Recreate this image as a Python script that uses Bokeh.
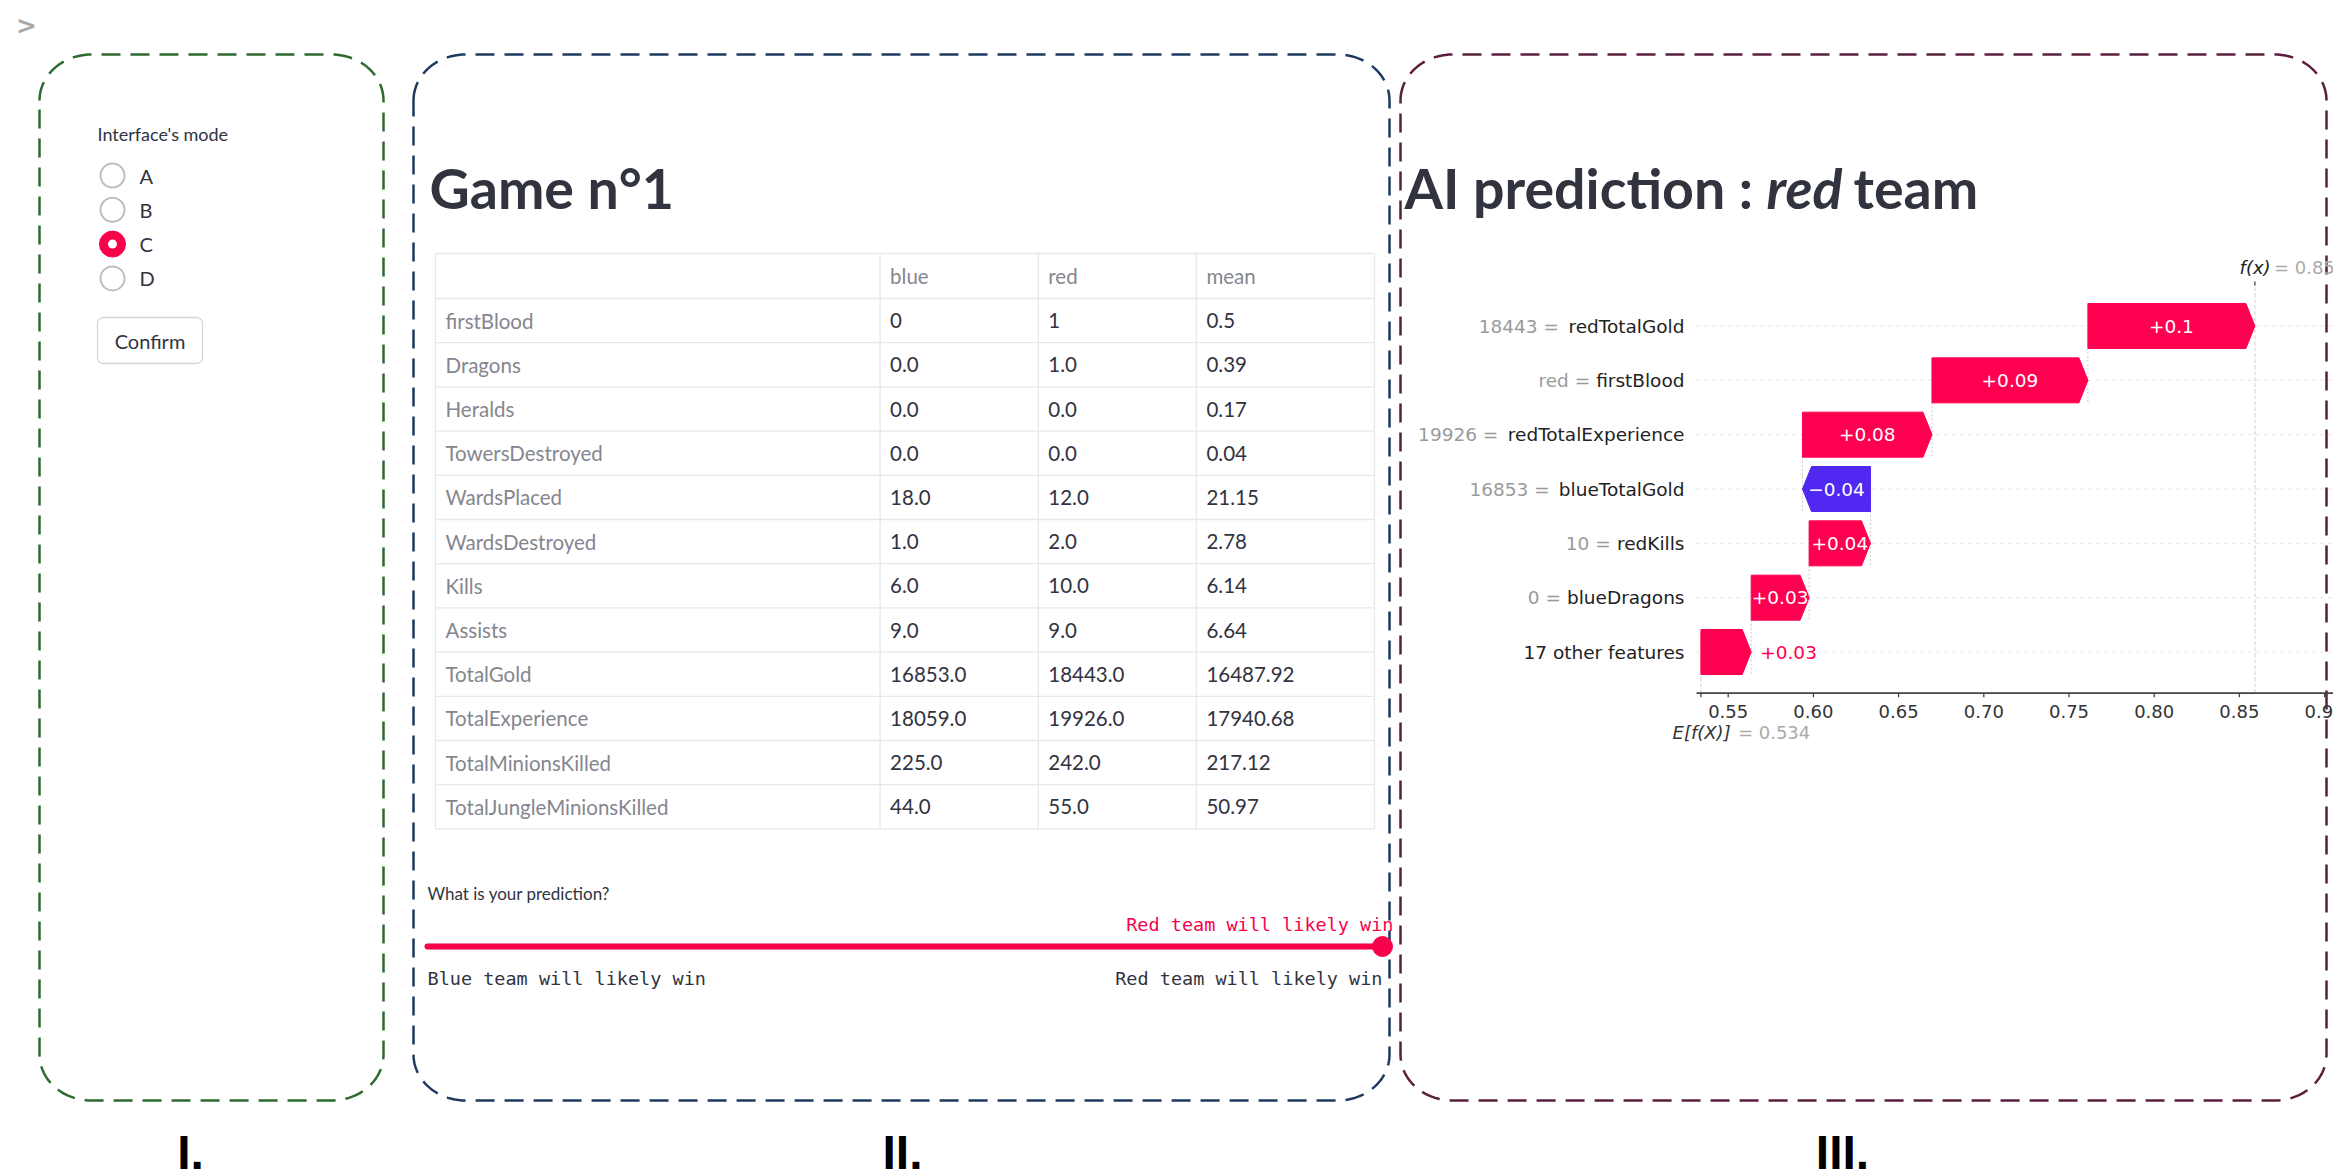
import numpy as np
from bokeh.plotting import figure
from bokeh.models import Range1d
from bokeh.embed import file_html
from bokeh.resources import INLINE
from bokeh.core.properties import value

# ---------------- data ----------------
mode_label = "Interface's mode"
modes = ["A", "B", "C", "D"]
selected_mode = "C"
button_label = "Confirm"

game_title = "Game n°1"
table_columns = ["blue", "red", "mean"]
table_index = ["firstBlood", "Dragons", "Heralds", "TowersDestroyed", "WardsPlaced",
               "WardsDestroyed", "Kills", "Assists", "TotalGold", "TotalExperience",
               "TotalMinionsKilled", "TotalJungleMinionsKilled"]
blue_col = ["0", "0.0", "0.0", "0.0", "18.0", "1.0", "6.0", "9.0", "16853.0", "18059.0", "225.0", "44.0"]
red_col = ["1", "1.0", "0.0", "0.0", "12.0", "2.0", "10.0", "9.0", "18443.0", "19926.0", "242.0", "55.0"]
mean_col = ["0.5", "0.39", "0.17", "0.04", "21.15", "2.78", "6.14", "6.64", "16487.92", "17940.68", "217.12", "50.97"]

prediction_question = "What is your prediction?"
slider_options = ["Blue team will likely win", "Red team will likely win"]
slider_selected = "Red team will likely win"

ai_title_parts = ["AI prediction :", "red", "team"]
feature_values = ["18443", "red", "19926", "16853", "10", "0", ""]
feature_names = ["redTotalGold", "firstBlood", "redTotalExperience", "blueTotalGold",
                 "redKills", "blueDragons", "17 other features"]
shap_values = [0.098, 0.0915, 0.076, -0.0399, 0.036, 0.034, 0.0295]
base_value = 0.534
x_ticks = [0.55, 0.60, 0.65, 0.70, 0.75, 0.80, 0.85, 0.90]
x_tick_labels = ["0.55", "0.60", "0.65", "0.70", "0.75", "0.80", "0.85", "0.90"]
panel_names = ["I.", "II.", "III."]

# ---------------- style ----------------
ST_TEXT = "#31333f"
ST_GRAY = "#84868f"
ST_RED = "#f7024b"
SHAP_POS = "#ff0051"
SHAP_NEG = "#5128f2"
UI_FONT = "Lato"
MONO = "DejaVu Sans Mono"
MPL = "DejaVu Sans"

W, H = 2333, 1172
OX, OY = 0, 0
p = figure(width=W, height=H, x_range=Range1d(OX, OX + W), y_range=Range1d(OY + H, OY),
           x_axis_location=None, y_axis_location=None, toolbar_location=None,
           output_backend="svg", min_border=0)
p.grid.visible = False
p.outline_line_color = None
p.background_fill_color = "white"
p.border_fill_color = "white"


def as_list(v):
    return list(v) if isinstance(v, (list, tuple, np.ndarray)) else [v]


def txt(x, y, s, size, color, font=UI_FONT, style="normal", align="left",
        baseline="middle", **kw):
    xs, ys, ss = as_list(x), as_list(y), as_list(s)
    m = max(len(xs), len(ys), len(ss))
    xs = xs * m if len(xs) == 1 else xs
    ys = ys * m if len(ys) == 1 else ys
    ss = ss * m if len(ss) == 1 else ss
    p.text(x=xs, y=ys, text=ss, text_font=value(font), text_font_size=f"{size}px",
           text_color=color, text_font_style=style, text_align=align,
           text_baseline=baseline, **kw)


def rounded(x0, y0, x1, y1, rx, ry, n=24):
    xs, ys = [], []
    for cx, cy, a0, a1 in [(x0 + rx, y0 + ry, np.pi, 1.5 * np.pi),
                           (x1 - rx, y0 + ry, 1.5 * np.pi, 2 * np.pi),
                           (x1 - rx, y1 - ry, 0.0, 0.5 * np.pi),
                           (x0 + rx, y1 - ry, 0.5 * np.pi, np.pi)]:
        t = np.linspace(a0, a1, n)
        xs += list(cx + rx * np.cos(t))
        ys += list(cy + ry * np.sin(t))
    xs.append(xs[0]); ys.append(ys[0])
    return xs, ys


# ---------------- panel borders & labels ----------------
panels = [(39, 54, 383, 1100, "#2d6a2f"), (413, 54, 1389, 1100, "#1f3a60"),
          (1400, 54, 2326, 1100, "#5a1f3d")]
for (x0, y0, x1, y1, c) in panels:
    bx, by = rounded(x0, y0, x1, y1, 52, 46)
    p.line(bx, by, line_color=c, line_width=2.5, line_dash="19 10")
panel_centers = [190, 902, 1842]
txt(panel_centers, 1152, panel_names, 48, "black", font="Liberation Sans",
    style="bold", align="center")

# sidebar chevron
txt(26, 25, ">", 25, "#a8a8a8", font=MPL, style="bold", align="center")

# ---------------- panel I ----------------
txt(97, 133, mode_label, 18, ST_TEXT)
radio_y = [175 + 34.3 * i for i in range(len(modes))]
unsel = [y for m, y in zip(modes, radio_y) if m != selected_mode]
sel = [y for m, y in zip(modes, radio_y) if m == selected_mode]
p.scatter([112] * len(unsel), unsel, size=24, fill_color="white", line_color="#bdbec3", line_width=2)
p.scatter([112] * len(sel), sel, size=26, fill_color=ST_RED, line_color=ST_RED, line_width=1)
p.scatter([112] * len(sel), sel, size=9, fill_color="white", line_color=None)
txt(139, radio_y, modes, 20, ST_TEXT)
bx, by = rounded(97, 317, 202, 363, 6, 6, n=8)
p.patch(bx, by, fill_color="white", line_color="#d5d6da", line_width=1.3)
txt(149.5, 340, button_label, 20, ST_TEXT, align="center")

# ---------------- panel II ----------------
TITLE_FS = 55.5
txt(429, 187, game_title, TITLE_FS, ST_TEXT, style="bold")

col_edges = [435, 879.6, 1037.8, 1195.9, 1374]
hdr_top, hdr_bot, row_h = 253, 298, 44.2
n_rows = len(table_index)
tbl_bottom = hdr_bot + row_h * n_rows
h_lines = [hdr_top, hdr_bot] + [hdr_bot + row_h * (k + 1) for k in range(n_rows)]
p.segment(x0=col_edges[0], x1=col_edges[-1], y0=h_lines, y1=h_lines,
          line_color="#e6e8ec", line_width=1.3)
p.segment(x0=col_edges, x1=col_edges, y0=hdr_top, y1=tbl_bottom,
          line_color="#e6e8ec", line_width=1.3)
pad = 10
TFS = 20.5
txt([e + pad for e in col_edges[1:4]], (hdr_top + hdr_bot) / 2, table_columns, TFS, ST_GRAY)
row_centers = [hdr_bot + row_h * (k + 0.5) for k in range(n_rows)]
txt(col_edges[0] + pad, row_centers, table_index, TFS, ST_GRAY)
for ci, col in enumerate([blue_col, red_col, mean_col]):
    txt(col_edges[ci + 1] + pad, row_centers, col, TFS, ST_TEXT)

txt(427, 893, prediction_question, 17, ST_TEXT)
sl_x0, sl_x1, sl_y = 427, 1382, 946
sel_frac = slider_options.index(slider_selected) / (len(slider_options) - 1)
knob_x = sl_x0 + sel_frac * (sl_x1 - sl_x0)
p.line([sl_x0, sl_x1], [sl_y, sl_y], line_color="#e6e8ec", line_width=6, line_cap="round")
p.line([sl_x0, knob_x], [sl_y, sl_y], line_color=ST_RED, line_width=6, line_cap="round")
p.scatter([knob_x], [sl_y], size=20, fill_color=ST_RED, line_color=ST_RED)
txt(min(knob_x + 11, 1393), 924, slider_selected, 18.5, ST_RED, font=MONO, align="right")
txt(sl_x0, 978, slider_options[0], 18.5, ST_TEXT, font=MONO, align="left")
txt(sl_x1, 978, slider_options[-1], 18.5, ST_TEXT, font=MONO, align="right")

# ---------------- panel III ----------------
txt(1404, 187, ai_title_parts[0], TITLE_FS, ST_TEXT, style="bold")
txt(1766, 187, ai_title_parts[1], TITLE_FS, ST_TEXT, style="bold italic")
txt(1853, 187, ai_title_parts[2], TITLE_FS, ST_TEXT, style="bold")

# waterfall scales (screen pixel <-> data)
PX055, PPU = 1727.7, 1704.0      # pixel of 0.55, pixels per unit
ROW0, RPX = 651.5, 54.33         # pixel of bottom row centre, pixels per row
def v_at(px): return 0.55 + (px - PX055) / PPU
def r_at(py): return (ROW0 - py) / RPX
p.extra_x_ranges = {"shap": Range1d(v_at(OX), v_at(OX + W))}
p.extra_y_ranges = {"rows": Range1d(r_at(OY + H), r_at(OY))}
S = dict(x_range_name="shap", y_range_name="rows")
R = dict(y_range_name="rows")

n = len(shap_values)
row_r = [n - 1 - i for i in range(n)]
starts, ends = [0.0] * n, [0.0] * n
cur = base_value
for i in range(n - 1, -1, -1):
    starts[i] = cur
    cur += shap_values[i]
    ends[i] = cur
fx = cur

r_axis, r_top = r_at(692.7), r_at(285)
v_left, v_right = v_at(1696), v_at(OX + W + 20)

# row grid lines
p.segment(x0=v_left, x1=v_right, y0=row_r, y1=row_r, line_color="#d9d9d9",
          line_width=1, line_dash="2 6", **S)
# f(x) and base lines
p.segment(x0=[fx, base_value], x1=[fx, base_value], y0=[r_axis, r_axis],
          y1=[r_top, r_axis + (r_top - r_axis) / n], line_color="#cfcfcf",
          line_width=1, line_dash="4 2", **S)
# connector lines
cx_, cy0, cy1 = [], [], []
for i in range(n):
    if row_r[i] >= 1:
        cx_.append(starts[i]); cy0.append(row_r[i] - 1 - 0.4); cy1.append(row_r[i] + 0.4)
p.segment(x0=cx_, x1=cx_, y0=cy0, y1=cy1, line_color="#cccccc", line_width=1,
          line_dash="2 2", **S)

# bars
HL = 9 / PPU
HH = 22.5 / RPX
bxs, bys, bcols = [], [], []
for i in range(n):
    s, e, r = starts[i], ends[i], row_r[i]
    d = 1 if e >= s else -1
    hl = min(HL, abs(e - s))
    bxs.append([s, e - d * hl, e, e - d * hl, s])
    bys.append([r - HH, r - HH, r, r + HH, r + HH])
    bcols.append(SHAP_POS if d > 0 else SHAP_NEG)
p.patches(xs=bxs, ys=bys, fill_color=bcols, line_color=bcols, line_width=1, **S)

DJV = {' ': .318, '=': .838, '+': .838, '\u2212': .838, '.': .318, '(': .390, ')': .390,
       'a': .613, 'b': .635, 'c': .550, 'd': .635, 'e': .615, 'f': .352, 'g': .635,
       'h': .634, 'i': .278, 'k': .579, 'l': .278, 'm': .974, 'n': .634, 'o': .612,
       'p': .635, 'r': .411, 's': .521, 't': .392, 'u': .634, 'x': .592, 'y': .592,
       'B': .686, 'D': .770, 'E': .632, 'G': .775, 'K': .656, 'T': .611, 'X': .685}
def tw(s, size):
    return sum(DJV.get(c, .636) for c in s) * size

def fmt(v):
    s = "%+0.02f" % v
    s = s.rstrip("0").rstrip(".") if "." in s else s
    return s.replace("-", "\u2212")

FS = 18.5
in_x, in_y, in_t, out_x, out_y, out_t, out_c, out_al, out_off = [], [], [], [], [], [], [], [], []
for i in range(n):
    lab = fmt(shap_values[i])
    if tw(lab, FS) <= abs(ends[i] - starts[i]) * PPU:
        in_x.append((starts[i] + ends[i]) / 2); in_y.append(row_r[i]); in_t.append(lab)
    else:
        out_x.append(ends[i]); out_y.append(row_r[i]); out_t.append(lab)
        pos = shap_values[i] >= 0
        out_c.append(SHAP_POS if pos else SHAP_NEG)
        out_al.append("left" if pos else "right")
        out_off.append(9 if pos else -9)
if in_x:
    txt(in_x, in_y, in_t, FS, "white", font=MPL, align="center", **S)
for x, y, t, c, al, off in zip(out_x, out_y, out_t, out_c, out_al, out_off):
    txt(x, y, t, FS, c, font=MPL, align=al, x_offset=off, **S)

# feature labels
LAB_X = 1684
txt(LAB_X, row_r, feature_names, FS, "#222222", font=MPL, align="right", **R)
for i in range(n):
    if feature_values[i]:
        txt(LAB_X - tw(feature_names[i] + " ", FS), row_r[i], feature_values[i] + " =",
            FS, "#9a9a9a", font=MPL, align="right", **R)

# bottom axis
p.segment(x0=[v_left], x1=[v_right], y0=[r_axis], y1=[r_axis], line_color="#444444",
          line_width=1.8, **S)
tick_len = 4 / RPX
all_ticks = x_ticks + [base_value]
p.segment(x0=all_ticks, x1=all_ticks, y0=r_axis, y1=r_axis - tick_len,
          line_color="#444444", line_width=1.3, **S)
txt(x_ticks, r_axis, x_tick_labels, 18, "#333333", font=MPL, align="center",
    y_offset=18, **S)
txt(base_value, r_axis, "E[f(X)]", 18, "#333333", font=MPL, style="italic",
    x_offset=-28.4, y_offset=39, **S)
txt(base_value, r_axis, "= %0.03f" % base_value, 18, "#aaaaaa", font=MPL,
    x_offset=37, y_offset=39, **S)
# top f(x) tick and label
p.segment(x0=[fx], x1=[fx], y0=[r_top], y1=[r_top + tick_len], line_color="#444444",
          line_width=1.3, **S)
txt(fx, r_top, "f(x)", 18, "#222222", font=MPL, style="italic", x_offset=-15.3,
    y_offset=-18, **S)
txt(fx, r_top, "= %0.03f" % fx, 18, "#aaaaaa", font=MPL, x_offset=19, y_offset=-18, **S)

open("out.html", "w").write(file_html(p, INLINE))
